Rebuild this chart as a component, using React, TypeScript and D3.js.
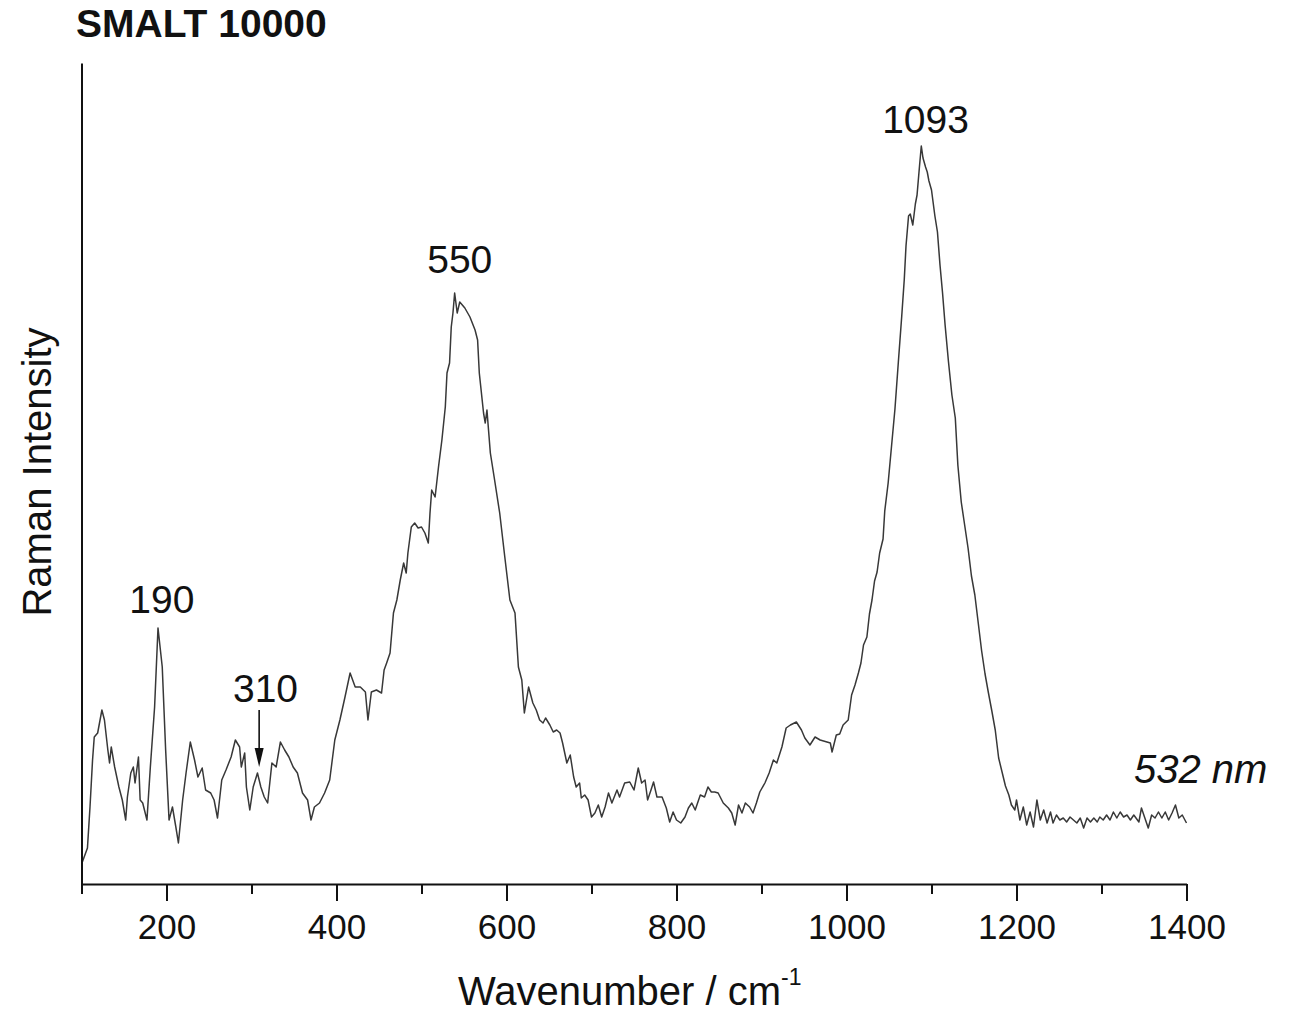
import React, { useRef, useEffect } from 'react';
import * as d3 from 'd3';

const WIDTH = 1297;
const HEIGHT = 1015;
const FONT = '"Liberation Sans", Arial, Helvetica, sans-serif';

// Raman spectrum: wavenumber (cm-1) and intensity (a.u.)
const wavenumber = [
  101, 107, 110, 113, 115, 119, 124, 127, 131, 133, 135, 139, 144, 148, 152, 154, 158, 161, 163, 167,
  169, 172, 177, 181, 186, 190, 195, 199, 203, 207, 211, 214, 219, 223, 228, 233, 237, 242, 246, 252,
  256, 260, 265, 270, 276, 281, 286, 288, 292, 294, 298, 302, 307, 311, 315, 319, 324, 329, 334, 339,
  344, 349, 354, 360, 366, 370, 374, 380, 386, 392, 398, 404, 410, 416, 422, 428, 434, 437, 441, 447,
  453, 456, 459, 463, 467, 471, 475, 479, 482, 484, 488, 492, 496, 500, 504, 508, 510, 512, 516, 520,
  524, 528, 530, 533, 535, 537, 539, 542, 545, 551, 557, 563, 566, 568, 573, 575, 577, 581, 586, 592,
  598, 604, 610, 614, 618, 621, 626, 631, 635, 639, 643, 646, 651, 655, 659, 663, 666, 671, 675, 679,
  682, 686, 688, 692, 696, 700, 704, 708, 712, 716, 720, 724, 730, 733, 739, 745, 750, 755, 759, 763,
  766, 770, 773, 777, 783, 788, 792, 796, 800, 805, 810, 814, 818, 822, 828, 833, 837, 841, 845, 849,
  855, 861, 865, 869, 873, 877, 881, 886, 890, 894, 898, 904, 909, 914, 918, 924, 929, 934, 941, 947,
  951, 957, 963, 969, 977, 981, 983, 988, 992, 996, 1002, 1006, 1010, 1014, 1017, 1020, 1024, 1027, 1030, 1033,
  1036, 1039, 1043, 1045, 1049, 1053, 1057, 1061, 1065, 1068, 1070, 1073, 1075, 1078, 1081, 1083, 1086, 1088, 1090, 1093,
  1095, 1097, 1100, 1104, 1107, 1110, 1113, 1116, 1120, 1124, 1128, 1131, 1135, 1139, 1143, 1147, 1151, 1155, 1159, 1163,
  1167, 1171, 1175, 1179, 1183, 1187, 1191, 1194, 1198, 1200, 1204, 1208, 1212, 1216, 1220, 1224, 1228, 1232, 1236, 1240,
  1243, 1247, 1251, 1255, 1259, 1263, 1267, 1271, 1275, 1279, 1283, 1287, 1291, 1295, 1298, 1302, 1306, 1310, 1314, 1318,
  1322, 1326, 1330, 1334, 1338, 1344, 1347, 1351, 1355, 1359, 1363, 1367, 1371, 1375, 1379, 1383, 1387, 1391, 1395, 1400,
];

const intensity = [
  22, 36, 77, 124, 147, 151, 174, 164, 134, 121, 137, 117, 97, 84, 64, 87, 111, 117, 101, 127,
  84, 81, 64, 117, 177, 256, 217, 134, 64, 77, 57, 41, 84, 111, 142, 124, 107, 116, 94, 91,
  84, 66, 104, 114, 127, 144, 137, 117, 131, 97, 74, 97, 111, 97, 87, 81, 121, 117, 142, 134,
  127, 117, 111, 91, 84, 64, 77, 81, 91, 104, 144, 164, 187, 211, 197, 197, 192, 164, 192, 194,
  191, 214, 221, 231, 271, 284, 304, 321, 311, 331, 357, 361, 356, 357, 351, 341, 371, 394, 387, 417,
  444, 477, 511, 521, 557, 571, 591, 571, 582, 576, 567, 554, 544, 511, 471, 461, 474, 431, 404, 371,
  327, 284, 271, 217, 204, 171, 197, 181, 174, 164, 161, 166, 159, 152, 154, 151, 141, 121, 129, 107,
  97, 101, 86, 89, 84, 67, 71, 79, 67, 77, 91, 81, 94, 87, 101, 102, 94, 116, 101, 104,
  84, 94, 102, 87, 87, 76, 62, 72, 64, 61, 67, 76, 81, 74, 89, 87, 97, 92, 92, 91,
  81, 76, 71, 59, 79, 71, 81, 77, 71, 81, 92, 101, 111, 124, 121, 137, 156, 159, 162, 154,
  146, 139, 147, 144, 142, 141, 132, 149, 150, 159, 164, 189, 199, 211, 221, 239, 247, 270, 284, 303,
  312, 331, 345, 373, 401, 438, 475, 522, 568, 605, 638, 668, 670, 659, 680, 689, 719, 738, 726, 717,
  712, 703, 694, 668, 652, 619, 591, 559, 522, 489, 466, 419, 382, 359, 336, 308, 289, 261, 233, 210,
  191, 173, 154, 126, 112, 98, 89, 79, 74, 84, 64, 77, 59, 72, 57, 84, 64, 74, 61, 72,
  61, 69, 64, 66, 62, 67, 64, 61, 66, 56, 66, 62, 66, 62, 67, 64, 69, 64, 72, 66,
  72, 67, 69, 64, 69, 62, 76, 66, 56, 69, 66, 72, 66, 72, 64, 71, 79, 66, 69, 61,
];

const majorTicks = [200, 400, 600, 800, 1000, 1200, 1400];
const minorTicks = [100, 300, 500, 700, 900, 1100, 1300];

// peak annotations: label, x position (cm-1), baseline (intensity units)
const peakLabels = ['190', '310', '550', '1093'];
const peakLabelX = [194.5, 316.5, 545, 1093];
const peakLabelY = [271, 182, 611, 751];

// arrow pointing at the 310 band
const arrowX = 309;
const arrowFrom = 174;
const arrowTo = 117;

export default function App() {
  const svgRef = useRef<SVGSVGElement>(null);

  useEffect(() => {
    if (!svgRef.current) return;
    const svg = d3.select(svgRef.current);
    svg.selectAll('*').remove();

    const x = d3.scaleLinear().domain([100, 1400]).range([81.5, 1186.5]);
    const y = d3.scaleLinear().domain([0, 821]).range([884, 63]);

    const data = wavenumber.map((w, i) => ({ w, v: intensity[i] }));

    // spectrum
    const line = d3.line<{ w: number; v: number }>()
      .x(d => x(d.w))
      .y(d => y(d.v));
    svg.append('path').datum(data).attr('d', line)
      .attr('fill', 'none').attr('stroke', '#383838').attr('stroke-width', 1.5)
      .attr('stroke-linejoin', 'round');

    // left axis, just a line
    svg.append('g').attr('transform', `translate(${x(100)},0)`)
      .call(d3.axisLeft(y).tickValues([]).tickSizeOuter(0))
      .call(a => a.select('.domain').attr('stroke', '#111').attr('stroke-width', 2));

    // bottom axis: minor ticks
    svg.append('g').attr('transform', `translate(0,${y(0)})`)
      .call(d3.axisBottom(x).tickValues(minorTicks).tickSize(10).tickSizeOuter(0).tickFormat(() => ''))
      .call(a => a.select('.domain').remove())
      .call(a => a.selectAll('line').attr('stroke', '#111').attr('stroke-width', 2));

    // bottom axis: major ticks + labels
    svg.append('g').attr('transform', `translate(0,${y(0)})`)
      .call(d3.axisBottom(x).tickValues(majorTicks).tickSize(17).tickSizeOuter(0).tickPadding(13).tickFormat(d3.format('d')))
      .call(a => a.select('.domain').attr('stroke', '#111').attr('stroke-width', 2))
      .call(a => a.selectAll('line').attr('stroke', '#111').attr('stroke-width', 2))
      .call(a => a.selectAll('text').attr('fill', '#111').attr('font-size', 35).attr('font-family', FONT));

    // peak labels
    peakLabels.forEach((t, i) => {
      svg.append('text').attr('x', x(peakLabelX[i])).attr('y', y(peakLabelY[i]))
        .attr('text-anchor', 'middle').attr('font-size', 39).attr('font-family', FONT)
        .attr('fill', '#111').text(t);
    });

    // arrow at 310
    const ax = x(arrowX);
    const headTop = y(arrowTo) - 19;
    svg.append('line').attr('x1', ax).attr('x2', ax).attr('y1', y(arrowFrom)).attr('y2', headTop + 2)
      .attr('stroke', '#111').attr('stroke-width', 1.6);
    svg.append('path')
      .attr('d', `M${ax - 4.5},${headTop} L${ax + 4.5},${headTop} L${ax},${y(arrowTo)} Z`)
      .attr('fill', '#111');

    // laser wavelength
    svg.append('text').attr('x', 1134).attr('y', 783)
      .attr('font-size', 40).attr('font-style', 'italic').attr('font-family', FONT)
      .attr('fill', '#111').text('532 nm');

    // title
    svg.append('text').attr('x', 76).attr('y', 37)
      .attr('font-size', 39).attr('font-weight', 'bold').attr('font-family', FONT)
      .attr('fill', '#111').text('SMALT 10000');

    // axis titles
    const xt = svg.append('text').attr('x', 458).attr('y', 1005)
      .attr('font-size', 40).attr('font-family', FONT).attr('fill', '#111');
    xt.append('tspan').text('Wavenumber / cm');
    xt.append('tspan').attr('font-size', 23).attr('dy', -20).text('-1');

    svg.append('text')
      .attr('transform', 'translate(51,472) rotate(-90)')
      .attr('text-anchor', 'middle').attr('font-size', 40).attr('font-family', FONT)
      .attr('fill', '#111').text('Raman Intensity');
  }, []);

  return (
    <div style={{ position: 'absolute', left: 0, top: 0, background: '#fff' }}>
      <svg ref={svgRef} width={WIDTH} height={HEIGHT} style={{ display: 'block' }} />
    </div>
  );
}
